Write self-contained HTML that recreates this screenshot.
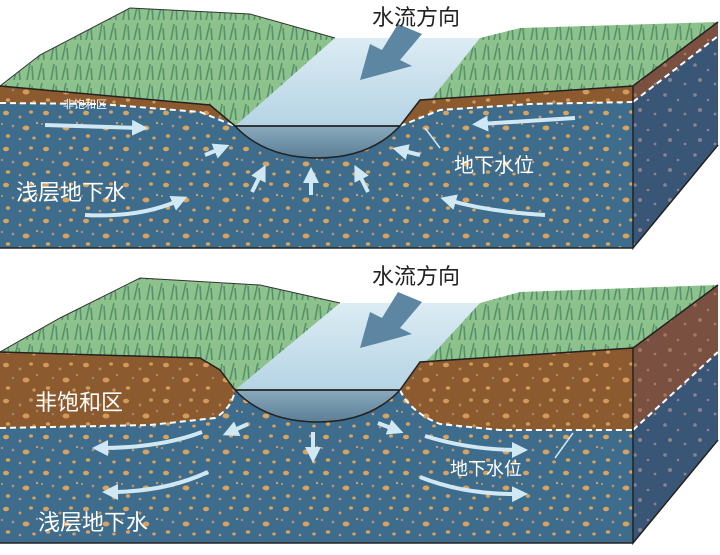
<!DOCTYPE html>
<html><head><meta charset="utf-8">
<style>
html,body{margin:0;padding:0;background:#fff;width:720px;height:555px;overflow:hidden}
svg{display:block}
text{font-family:"Liberation Sans","Noto Sans CJK SC",sans-serif}
</style></head><body>
<svg width="720" height="555" viewBox="0 0 720 555" xmlns="http://www.w3.org/2000/svg">
<defs>
<pattern id="pb" width="40" height="36" patternUnits="userSpaceOnUse">
<rect width="40" height="36" fill="#3d6c8c"/>
<ellipse cx="6" cy="5" rx="3" ry="2.3" fill="#d9a25e"/><circle cx="20" cy="9" r="1.5" fill="#c99a6a"/>
<ellipse cx="31" cy="4" rx="2" ry="1.6" fill="#d9a25e"/><circle cx="13" cy="18" r="1.3" fill="#b8967a"/>
<ellipse cx="26" cy="20" rx="3.4" ry="2.5" fill="#d9a25e"/><circle cx="37" cy="15" r="1.2" fill="#c99a6a"/>
<ellipse cx="8" cy="28" rx="2.2" ry="1.8" fill="#d9a25e"/><circle cx="20" cy="31" r="1.3" fill="#b8967a"/>
<ellipse cx="34" cy="30" rx="1.8" ry="1.5" fill="#d9a25e"/><circle cx="2" cy="16" r="1" fill="#c99a6a"/>
</pattern>
<pattern id="pr" width="40" height="36" patternUnits="userSpaceOnUse">
<rect width="40" height="36" fill="#8b5a2e"/>
<ellipse cx="6" cy="5" rx="3" ry="2.3" fill="#d39a5a"/><circle cx="20" cy="9" r="1.5" fill="#b8845a"/>
<ellipse cx="31" cy="4" rx="2" ry="1.6" fill="#d39a5a"/><circle cx="13" cy="18" r="1.3" fill="#9a8070"/>
<ellipse cx="26" cy="20" rx="3.4" ry="2.5" fill="#d39a5a"/><circle cx="37" cy="15" r="1.2" fill="#b8845a"/>
<ellipse cx="8" cy="28" rx="2.2" ry="1.8" fill="#d39a5a"/><circle cx="34" cy="30" r="1.6" fill="#d39a5a"/>
</pattern>
<pattern id="ps" width="30" height="30" patternUnits="userSpaceOnUse">
<rect width="30" height="30" fill="#3a5676"/>
<circle cx="5" cy="5" r="1.8" fill="#8a8290"/><circle cx="18" cy="10" r="1.3" fill="#8a8290"/>
<circle cx="10" cy="20" r="2" fill="#8a8290"/><circle cx="25" cy="24" r="1.4" fill="#8a8290"/>
</pattern>
<pattern id="psr" width="30" height="30" patternUnits="userSpaceOnUse">
<rect width="30" height="30" fill="#7a5040"/>
<circle cx="5" cy="5" r="1.8" fill="#a27860"/><circle cx="18" cy="10" r="1.3" fill="#a27860"/>
<circle cx="10" cy="20" r="2" fill="#a27860"/><circle cx="25" cy="24" r="1.4" fill="#a27860"/>
</pattern>
<pattern id="pg" width="24" height="20" patternUnits="userSpaceOnUse">
<rect width="24" height="20" fill="#8ec28c"/>
<path d="M3 20 L6 4 M9 20 L8 6 M14 20 L18 3 M20 20 L19 8" stroke="#55916c" stroke-width="1.6"/>
</pattern>
<linearGradient id="rv" x1="0" y1="0" x2="0" y2="1"><stop offset="0" stop-color="#dcecf4"/><stop offset="1" stop-color="#b5d4e4"/></linearGradient>
<linearGradient id="bw" x1="0" y1="0" x2="0" y2="1"><stop offset="0" stop-color="#8aaabd"/><stop offset="1" stop-color="#5b7f96"/></linearGradient>
<marker id="ah" markerWidth="4" markerHeight="4" refX="2" refY="2" orient="auto" markerUnits="strokeWidth"><path d="M0 0 L4 2 L0 4 z" fill="#cfe8f3"/></marker>
</defs>

<!-- ===== TOP BLOCK ===== -->
<path d="M0 86 L40 55 L130 8 L250 14 L335 38 L480 38 L520 28 L718 22 L633 86 L410 104 L400 126 L235 126 L210 105 Z" fill="url(#pg)"/>
<path d="M335 38 L480 38 L410 126 L235 126 Z" fill="url(#rv)"/>
<path d="M0 86 L40 55 L130 8 L250 14 L335 38" fill="none" stroke="#333" stroke-width="1"/>
<path d="M633 86 L718 22 L718 145 L633 248 Z" fill="url(#ps)"/>
<path d="M633 86 L718 22 L718 36 L633 102 Z" fill="url(#psr)"/>
<line x1="633" y1="102" x2="718" y2="36" stroke="#fff" stroke-width="2" stroke-dasharray="6,4"/>
<path d="M0 86 L210 105 L235 126 L400 126 L420 100 L633 86 L633 248 L0 248 Z" fill="url(#pb)"/>
<path d="M0 86 L210 105 L235 126 L225 120 L200 112 L100 104 L0 103 Z" fill="url(#pr)"/>
<path d="M400 126 L420 100 L633 86 L633 102 L530 104 L440 110 L410 122 Z" fill="url(#pr)"/>
<path d="M0 103 L100 104 L200 112 L235 126 M400 126 L410 122 L440 110 L530 104 L633 102" fill="none" stroke="#fff" stroke-width="2" stroke-dasharray="6,4"/>
<path d="M235 126 L400 126 Q370 158 318 158 Q265 158 235 126 Z" fill="url(#bw)" stroke="#222" stroke-width="1.5"/>
<path d="M0 86 L210 105 L235 126 L400 126 L420 100 L633 86 L718 22 M633 86 L633 248 L718 145 M0 248 L633 248" fill="none" stroke="#222" stroke-width="1.5"/>
<g stroke="#cfe8f3" stroke-width="4" fill="none" marker-end="url(#ah)">
<path d="M45 125 L140 128"/><path d="M575 118 L480 124"/>
<path d="M205 155 L222 148"/><path d="M420 155 L400 150"/>
<path d="M252 192 L262 172"/><path d="M311 195 L311 175"/><path d="M368 192 L358 172"/>
<path d="M85 215 Q140 218 180 200"/><path d="M545 215 Q490 212 448 200"/>
</g>
<line x1="440" y1="148" x2="425" y2="128" stroke="#cfe8f3" stroke-width="1.5"/>
<path d="M398 24 L422 34 L400 60 L412 66 L360 80 L370 44 L382 50 Z" fill="#5c86a2"/>
<text x="372" y="25" font-size="22" fill="#222">水流方向</text>
<text x="63" y="108" font-size="11" fill="#fff">非饱和区</text>
<text x="454" y="172" font-size="20" fill="#fff">地下水位</text>
<text x="16" y="200" font-size="22" fill="#fff">浅层地下水</text>

<!-- ===== BOTTOM BLOCK ===== -->
<path d="M0 352 L60 318 L140 278 L260 285 L340 303 L480 303 L520 292 L718 285 L633 348 L420 362 L400 390 L235 390 L220 370 L200 358 Z" fill="url(#pg)"/>
<path d="M340 303 L480 303 L400 390 L235 390 Z" fill="url(#rv)"/>
<path d="M0 352 L60 318 L140 278 L260 285 L340 303" fill="none" stroke="#333" stroke-width="1"/>
<path d="M633 348 L718 285 L718 440 L633 543 Z" fill="url(#ps)"/>
<path d="M633 348 L718 285 L718 352 L633 430 Z" fill="url(#psr)"/>
<line x1="633" y1="430" x2="718" y2="352" stroke="#fff" stroke-width="2" stroke-dasharray="6,4"/>
<path d="M0 352 L200 358 L220 370 L235 390 L400 390 L420 362 L633 348 L633 543 L0 543 Z" fill="url(#pb)"/>
<path d="M0 352 L200 358 L220 370 L235 390 Q232 408 215 418 L150 425 L0 428 Z" fill="url(#pr)"/>
<path d="M400 390 L420 362 L633 348 L633 430 L500 430 L440 424 Q410 412 400 390 Z" fill="url(#pr)"/>
<path d="M0 428 L150 425 L215 418 Q232 408 235 390 M400 390 Q410 412 440 424 L500 430 L633 430" fill="none" stroke="#fff" stroke-width="2" stroke-dasharray="6,4"/>
<path d="M235 390 L400 390 Q370 422 318 422 Q265 422 235 390 Z" fill="url(#bw)" stroke="#222" stroke-width="1.5"/>
<path d="M0 352 L200 358 L220 370 L235 390 L400 390 L420 362 L633 348 L718 285 M633 348 L633 543 L718 440 M0 543 L633 543" fill="none" stroke="#222" stroke-width="1.5"/>
<g stroke="#cfe8f3" stroke-width="4" fill="none" marker-end="url(#ah)">
<path d="M248 424 L230 432"/><path d="M378 423 L396 430"/><path d="M313 432 L313 455"/>
<path d="M202 432 Q160 448 100 448"/><path d="M425 436 Q470 450 520 450"/>
<path d="M208 472 Q165 492 110 492"/><path d="M420 477 Q465 495 520 494"/>
</g>
<line x1="555" y1="458" x2="573" y2="433" stroke="#cfe8f3" stroke-width="1.5"/>
<path d="M398 292 L422 302 L400 328 L412 334 L360 348 L370 312 L382 318 Z" fill="#5c86a2"/>
<text x="372" y="284" font-size="22" fill="#222">水流方向</text>
<text x="35" y="410" font-size="22" fill="#fff">非饱和区</text>
<text x="450" y="475" font-size="18" fill="#fff">地下水位</text>
<text x="38" y="530" font-size="22" fill="#fff">浅层地下水</text>
</svg>
</body></html>
